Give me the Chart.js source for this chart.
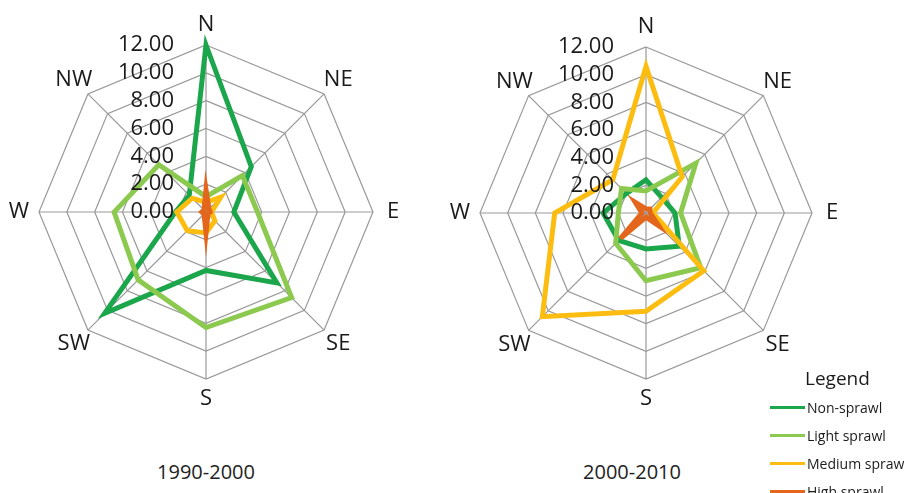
<!DOCTYPE html>
<html>
<head>
<meta charset="utf-8">
<script src="https://cdn.jsdelivr.net/npm/chart.js@4.4.1/dist/chart.umd.min.js"></script>
<style>
  body { margin: 0; background: #fff; font-family: 'Open Sans', sans-serif; }
  #wrap { position: relative; width: 904px; height: 493px; overflow: hidden; }
  canvas { position: absolute; top: 0; }
  #chartLeft { left: 0; }
  #chartRight { left: 440px; }
  .period { position: absolute; top: 458px; width: 200px; text-align: center; font-size: 20px; color: #222; }
  #legend { position: absolute; left: 770px; top: 363px; color: #1a1a1a; white-space: nowrap; }
  #legend .head { font-size: 19px; margin-left: 35px; height: 30px; line-height: 30px; }
  #legend .row { display: flex; align-items: center; height: 28px; font-size: 14px; }
  #legend .swatch { width: 35px; height: 3px; margin-right: 2px; }
</style>
</head>
<body>
<div id="wrap">
  <canvas id="chartLeft" width="420" height="440"></canvas>
  <canvas id="chartRight" width="420" height="440"></canvas>
  <div class="period" id="periodLeft" style="left:106px"></div>
  <div class="period" id="periodRight" style="left:532px"></div>
  <div id="legend"></div>
</div>
<script>
'use strict';

// ***** DATA *****
const directions = ['N', 'NE', 'E', 'SE', 'S', 'SW', 'W', 'NW'];
const seriesNames = ['Non-sprawl', 'Light sprawl', 'Medium sprawl', 'High sprawl'];
const seriesColors = ['#1ca64c', '#8cc94f', '#fdbd10', '#e4661c'];
const tickValues = [0, 2, 4, 6, 8, 10, 12];
const periods = ['1990-2000', '2000-2010'];

// 1990-2000
const nonSprawl1990 = [12.0, 4.6, 2.0, 7.2, 4.2, 10.3, 2.2, 1.7];
const lightSprawl1990 = [1.1, 3.7, 3.7, 8.7, 8.3, 6.9, 6.6, 4.8];
const mediumSprawl1990 = [0.7, 1.5, 0.4, 0.9, 1.5, 1.9, 2.1, 1.4];
const highSprawl1990 = [1.6, 0.3, 0.3, 0.2, 1.5, 0.2, 0.3, 0.2];

// 2000-2010
const nonSprawl2000 = [2.4, 1.6, 2.1, 3.4, 2.6, 2.8, 3.1, 2.0];
const lightSprawl2000 = [1.6, 5.1, 2.5, 5.6, 4.9, 3.1, 2.0, 2.5];
const mediumSprawl2000 = [10.6, 3.7, 0.5, 5.9, 7.1, 10.6, 6.6, 3.4];
const highSprawl2000 = [0.3, 0.4, 0.3, 1.3, 0.3, 2.6, 0.3, 1.1];

// ***** HELPERS *****
const textColor = '#1a1a1a';
const gridColor = '#999999';

// tick labels sit left of the N axis, point labels on a ring outside the grid
const radarText = {
  id: 'radarText',
  afterDatasetsDraw(chart){
    let scale = chart.scales.r;
    let ctx = chart.ctx;
    ctx.save();
    ctx.fillStyle = textColor;
    ctx.font = '22px "Open Sans"';
    ctx.textAlign = 'right';
    ctx.textBaseline = 'middle';
    for(let i = 0; i < tickValues.length; i++){
      let y = scale.yCenter - scale.getDistanceFromCenterForValue(tickValues[i]);
      ctx.fillText(tickValues[i].toFixed(2), scale.xCenter - 32, y);
    }
    ctx.textAlign = 'center';
    for(let i = 0; i < directions.length; i++){
      let pos = scale.getPointPosition(i, scale.drawingArea + 20);
      ctx.fillText(directions[i], pos.x, pos.y);
    }
    ctx.restore();
  }
};

function buildDatasets(valueLists){
  let datasets = [];
  for(let i = 0; i < seriesNames.length; i++){
    datasets.push({
      label: seriesNames[i],
      data: valueLists[i],
      borderColor: seriesColors[i],
      backgroundColor: seriesColors[i],
      borderWidth: 5,
      pointRadius: 0,
      fill: false,
      order: seriesNames.length - i
    });
  }
  return datasets;
}

function renderRadar(canvasId, valueLists, padding){
  new Chart(document.getElementById(canvasId), {
    type: 'radar',
    data: {
      labels: directions,
      datasets: buildDatasets(valueLists)
    },
    options: {
      responsive: false,
      animation: false,
      devicePixelRatio: 1,
      layout: { padding: padding },
      plugins: {
        legend: { display: false },
        tooltip: { enabled: false }
      },
      scales: {
        r: {
          min: 0,
          max: 12,
          ticks: { stepSize: 2, display: false },
          grid: { color: gridColor, lineWidth: 1.2, circular: false },
          angleLines: { color: gridColor, lineWidth: 1.2 },
          pointLabels: { display: false }
        }
      }
    },
    plugins: [radarText]
  });
}

function renderLegend(){
  let box = document.getElementById('legend');
  let head = document.createElement('div');
  head.className = 'head';
  head.textContent = 'Legend';
  box.appendChild(head);
  for(let i = 0; i < seriesNames.length; i++){
    let row = document.createElement('div');
    row.className = 'row';
    let swatch = document.createElement('span');
    swatch.className = 'swatch';
    swatch.style.background = seriesColors[i];
    let label = document.createElement('span');
    label.textContent = seriesNames[i];
    row.appendChild(swatch);
    row.appendChild(label);
    box.appendChild(row);
  }
}

// ***** EXECUTABLE CODE *****
renderRadar('chartLeft', [nonSprawl1990, lightSprawl1990, mediumSprawl1990, highSprawl1990],
  { left: 39, top: 45, right: 47, bottom: 61 });
renderRadar('chartRight', [nonSprawl2000, lightSprawl2000, mediumSprawl2000, highSprawl2000],
  { left: 40, top: 47, right: 48, bottom: 61 });

document.getElementById('periodLeft').textContent = periods[0];
document.getElementById('periodRight').textContent = periods[1];
renderLegend();
</script>
</body>
</html>
